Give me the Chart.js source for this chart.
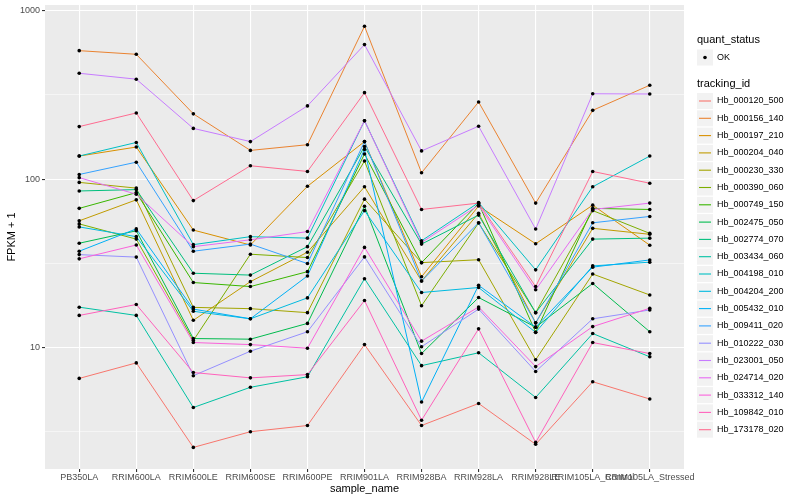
<!DOCTYPE html>
<html>
<head>
<meta charset="utf-8">
<script src="https://cdn.jsdelivr.net/npm/chart.js@4.4.1/dist/chart.umd.min.js"></script>
<style>
  body { margin: 0; background: #fff; }
</style>
</head>
<body>
<canvas id="myChart" width="800" height="500"></canvas>
<script>

// x categories
var samples = ['PB350LA', 'RRIM600LA', 'RRIM600LE', 'RRIM600SE', 'RRIM600PE', 'RRIM901LA',
               'RRIM928BA', 'RRIM928LA', 'RRIM928LE', 'RRIM105LA_Control', 'RRIM105LA_Stressed'];

var trackingIds = ['Hb_000120_500', 'Hb_000156_140', 'Hb_000197_210', 'Hb_000204_040', 'Hb_000230_330',
                   'Hb_000390_060', 'Hb_000749_150', 'Hb_002475_050', 'Hb_002774_070', 'Hb_003434_060',
                   'Hb_004198_010', 'Hb_004204_200', 'Hb_005432_010', 'Hb_009411_020', 'Hb_010222_030',
                   'Hb_023001_050', 'Hb_024714_020', 'Hb_033312_140', 'Hb_109842_010', 'Hb_173178_020'];

// ggplot hue palette, 20 levels
var colours = ['#F8766D', '#EA8331', '#D89000', '#C09B00', '#A3A500', '#7CAE00', '#39B600', '#00BB4E',
               '#00BF7D', '#00C1A3', '#00BFC4', '#00BAE0', '#00B0F6', '#35A2FF', '#9590FF', '#C77CFF',
               '#E76BF3', '#FA62DB', '#FF62BC', '#FF6C91'];

// FPKM + 1
var hb_000120_500 = [6.55, 8.1, 2.55, 3.16, 3.44, 10.4, 3.44, 4.65, 2.66, 6.26, 4.94];
var hb_000156_140 = [579, 551, 244, 148, 160, 808, 109, 287, 72, 256, 361];
var hb_000197_210 = [137, 155, 49.8, 40.6, 90.6, 167, 26.3, 69.2, 41.3, 70, 40.5];
var hb_000204_040 = [56.5, 75.3, 14.5, 24.6, 36.8, 90, 24.8, 62.7, 14.0, 51, 47];
var hb_000230_330 = [95.6, 88.4, 17.3, 17.0, 16.1, 76, 31.9, 33.2, 8.45, 27.3, 20.5];
var hb_000390_060 = [54.2, 44.0, 11.0, 35.8, 34.2, 128, 17.7, 54.9, 16.1, 65, 47.6];
var hb_000749_150 = [67, 83.1, 24.3, 23.0, 28.2, 141, 31.9, 71.7, 12.3, 67, 66];
var hb_002475_050 = [41.6, 49.3, 11.3, 11.2, 13.9, 69, 9.2, 19.8, 13.2, 24.0, 12.4];
var hb_002774_070 = [85, 86.6, 27.6, 26.9, 39.7, 156, 41.1, 61.1, 16.1, 44, 44.6];
var hb_003434_060 = [17.35, 15.5, 4.4, 5.8, 6.7, 25.6, 7.8, 9.3, 5.05, 12.1, 8.8];
var hb_004198_010 = [137, 165, 40.8, 45.5, 44.6, 222, 43, 72.5, 28.9, 90, 137];
var hb_004204_200 = [52, 45.5, 16.4, 14.8, 19.7, 65, 21.2, 22.7, 12.3, 30.5, 32.1];
var hb_005432_010 = [37.3, 50.6, 16.9, 14.8, 26.6, 150, 4.74, 23.4, 13.2, 30, 33.1];
var hb_009411_020 = [106.5, 126, 37.3, 41.1, 31.5, 167, 24.8, 55, 14.0, 55, 60];
var hb_010222_030 = [35.6, 34.4, 6.8, 9.5, 12.4, 34.5, 10.1, 16.9, 7.2, 14.8, 16.7];
var hb_023001_050 = [425, 392, 200, 167, 272, 629, 147, 206, 50.5, 321, 320];
var hb_024714_020 = [102, 81.3, 39.7, 43.6, 48.8, 222, 42, 70, 22.0, 66, 72];
var hb_033312_140 = [33.6, 40.6, 10.7, 10.4, 9.9, 39.3, 10.9, 17.4, 7.7, 13.3, 17.1];
var hb_109842_010 = [15.5, 18.0, 7.1, 6.6, 6.9, 19.0, 3.7, 12.9, 2.73, 10.7, 9.2];
var hb_173178_020 = [205, 247, 74.5, 120, 111, 326, 66, 72, 23, 111, 94.5];

var series = [hb_000120_500, hb_000156_140, hb_000197_210, hb_000204_040, hb_000230_330,
              hb_000390_060, hb_000749_150, hb_002475_050, hb_002774_070, hb_003434_060,
              hb_004198_010, hb_004204_200, hb_005432_010, hb_009411_020, hb_010222_030,
              hb_023001_050, hb_024714_020, hb_033312_140, hb_109842_010, hb_173178_020];

// y breaks: majors labelled, minors only get a thin grid line
var yTicks = [3.162, 10, 31.62, 100, 316.2, 1000];
var yLabels = ['', '10', '', '100', '', '1000'];

var FONT = '"Liberation Sans", Arial, Helvetica, sans-serif';

var panelBg = {
   id: 'panelBg',
   beforeDraw: function(chart) {
      var a = chart.chartArea, c = chart.ctx;
      c.save();
      c.fillStyle = '#EBEBEB';
      c.fillRect(a.left, a.top, a.right - a.left, a.bottom - a.top);
      c.restore();
   }
};

// two-part ggplot style legend on the right
var ggLegend = {
   id: 'ggLegend',
   afterDraw: function(chart) {
      var c = chart.ctx;
      var x0 = 697;
      c.save();
      c.textBaseline = 'middle';
      c.textAlign = 'left';
      c.fillStyle = '#000';
      c.font = '11px ' + FONT;
      c.fillText('quant_status', x0, 40);
      c.fillStyle = '#F2F2F2';
      c.fillRect(x0, 49.5, 16, 16);
      c.fillStyle = '#000';
      c.beginPath();
      c.arc(x0 + 8, 57.5, 1.8, 0, Math.PI * 2);
      c.fill();
      c.font = '9px ' + FONT;
      c.fillText('OK', x0 + 20, 57.5);

      c.font = '11px ' + FONT;
      c.fillText('tracking_id', x0, 84);
      c.font = '9px ' + FONT;
      trackingIds.forEach(function(id, i) {
         var yc = 101 + i * 17.3;
         c.fillStyle = '#F2F2F2';
         c.fillRect(x0, yc - 8, 16, 16);
         c.strokeStyle = colours[i];
         c.lineWidth = 1.1;
         c.beginPath();
         c.moveTo(x0 + 2, yc);
         c.lineTo(x0 + 14, yc);
         c.stroke();
         c.fillStyle = '#000';
         c.fillText(id, x0 + 20, yc);
      });
      c.restore();
   }
};

var datasets = [];
// lines first (last id on top, like ggplot), then all points above them
series.forEach(function(vals, i) {
   datasets.push({
      label: trackingIds[i],
      data: vals.map(function(v, j) { return {x: j, y: v}; }),
      borderColor: colours[i],
      borderWidth: 1,
      pointRadius: 0,
      fill: false,
      order: 40 - i
   });
});
series.forEach(function(vals, i) {
   datasets.push({
      label: trackingIds[i] + ' OK',
      data: vals.map(function(v, j) { return {x: j, y: v}; }),
      showLine: false,
      pointRadius: 1.8,
      pointBackgroundColor: '#000',
      pointBorderWidth: 0,
      order: 1
   });
});

const ctx = document.getElementById('myChart');
var chart = new Chart(ctx, {
   type: 'line',
   data: { datasets: datasets },
   options: {
      responsive: false,
      animation: false,
      devicePixelRatio: 1,
      layout: { padding: { top: 5, right: 116, left: 0, bottom: 0 } },
      plugins: {
         legend: { display: false },
         tooltip: { enabled: false }
      },
      scales: {
         x: {
            type: 'linear',
            min: -0.6,
            max: 10.6,
            afterBuildTicks: function(s) {
               s.ticks = samples.map(function(_, i) { return {value: i}; });
            },
            afterFit: function(s) {
               s.height = 31;
               s.paddingLeft = 0;
               s.paddingRight = 0;
            },
            ticks: {
               callback: function(v) { return samples[v]; },
               autoSkip: false,
               maxRotation: 0,
               minRotation: 0,
               padding: 0,
               color: '#4D4D4D',
               font: { size: 9, family: FONT }
            },
            grid: { color: '#FFFFFF', lineWidth: 1.1, tickLength: 3, tickColor: '#333333' },
            border: { display: false },
            title: {
               display: true,
               text: 'sample_name',
               color: '#000',
               font: { size: 11, family: FONT },
               padding: { top: 0, bottom: 4 }
            }
         },
         y: {
            type: 'logarithmic',
            min: 1.898,
            max: 1081,
            afterBuildTicks: function(s) {
               s.ticks = yTicks.map(function(v) { return {value: v}; });
            },
            afterFit: function(s) {
               s.width = 45;
               s.paddingTop = 0;
               s.paddingBottom = 0;
            },
            ticks: {
               callback: function(v, i) { return yLabels[i]; },
               padding: 2,
               color: '#4D4D4D',
               font: { size: 9, family: FONT }
            },
            grid: {
               color: '#FFFFFF',
               lineWidth: function(c) { return yLabels[c.index] ? 1.1 : 0.5; },
               tickLength: 3,
               tickColor: function(c) { return yLabels[c.index] ? '#333333' : 'rgba(0,0,0,0)'; }
            },
            border: { display: false },
            title: {
               display: true,
               text: 'FPKM + 1',
               color: '#000',
               font: { size: 11, family: FONT },
               padding: { top: 5, bottom: 0 }
            }
         }
      }
   },
   plugins: [panelBg, ggLegend]
});
</script>
</body>
</html>
